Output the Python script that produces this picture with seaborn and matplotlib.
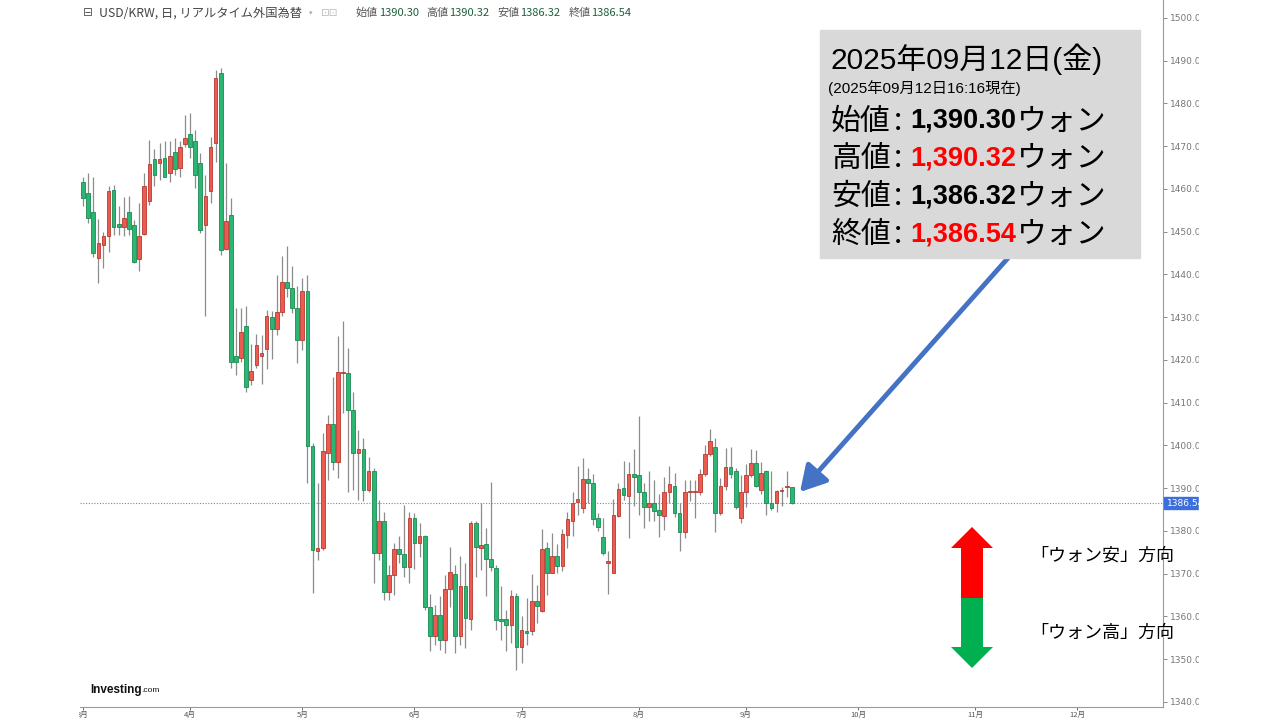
import numpy as np
import pandas as pd
import seaborn as sns
import matplotlib.pyplot as plt
from matplotlib.patches import Rectangle, Polygon

# USD/KRW daily candles, 2025-03-03 .. 2025-09-12
opens = [1461.7, 1459.0, 1454.5, 1443.8, 1446.8, 1449.0, 1459.8, 1451.7, 1451.0, 1454.5,
         1451.6, 1443.6, 1449.5, 1457.2, 1466.9, 1466.0, 1467.3, 1463.7, 1468.7, 1464.8,
         1470.5, 1472.9, 1471.1, 1466.0, 1451.6, 1459.4, 1470.8, 1487.1, 1445.9, 1453.9,
         1421.0, 1420.4, 1427.9, 1415.2, 1418.8, 1420.9, 1422.5, 1430.1, 1427.2, 1431.1,
         1438.3, 1436.8, 1432.1, 1424.7, 1436.2, 1399.9, 1375.4, 1375.9, 1398.3, 1405.1,
         1396.2, 1416.9, 1416.9, 1408.3, 1398.2, 1399.1, 1389.6, 1393.9, 1374.9, 1382.2,
         1365.8, 1369.7, 1375.7, 1374.6, 1371.6, 1382.9, 1377.1, 1378.7, 1362.3, 1355.5,
         1360.3, 1354.5, 1366.4, 1369.9, 1355.3, 1367.1, 1359.3, 1381.8, 1375.9, 1376.9,
         1373.4, 1371.3, 1359.3, 1359.3, 1358.0, 1364.8, 1352.8, 1356.5, 1356.5, 1363.5,
         1361.3, 1376.1, 1370.2, 1374.2, 1371.9, 1379.0, 1382.4, 1386.8, 1385.3, 1392.1,
         1391.3, 1382.9, 1378.5, 1372.4, 1370.1, 1383.5, 1390.0, 1388.2, 1393.3, 1393.1,
         1389.2, 1385.7, 1386.5, 1384.9, 1383.5, 1389.0, 1390.6, 1384.3, 1379.8, 1389.0,
         1389.0, 1389.0, 1393.3, 1398.0, 1399.7, 1384.1, 1390.5, 1395.0, 1394.1, 1383.0,
         1389.0, 1393.1, 1395.8, 1389.6, 1394.1, 1386.5, 1386.6, 1389.3, 1390.2, 1390.30]
highs = [1462.7, 1463.8, 1462.7, 1452.9, 1450.0, 1460.7, 1460.9, 1455.9, 1458.2, 1458.4,
         1452.8, 1456.6, 1463.7, 1471.5, 1469.3, 1470.8, 1471.1, 1471.1, 1471.9, 1471.1,
         1477.3, 1477.7, 1473.8, 1468.3, 1463.3, 1472.1, 1487.8, 1488.2, 1466.0, 1457.8,
         1432.1, 1432.1, 1432.6, 1423.7, 1426.1, 1425.9, 1431.7, 1431.5, 1439.9, 1444.2,
         1446.7, 1442.0, 1437.3, 1439.1, 1439.9, 1400.5, 1391.1, 1402.8, 1407.1, 1416.0,
         1425.6, 1429.2, 1422.7, 1412.6, 1403.6, 1401.7, 1397.2, 1394.7, 1387.2, 1384.5,
         1372.1, 1377.1, 1378.7, 1386.1, 1384.5, 1384.1, 1381.8, 1379.1, 1365.3, 1362.7,
         1364.8, 1369.7, 1376.2, 1372.0, 1374.2, 1372.4, 1382.4, 1382.2, 1386.6, 1380.6,
         1391.5, 1372.0, 1367.0, 1361.5, 1366.2, 1365.4, 1360.0, 1364.2, 1369.9, 1367.4,
         1380.4, 1377.5, 1379.5, 1377.0, 1380.4, 1384.5, 1389.0, 1395.2, 1397.0, 1394.6,
         1393.3, 1384.1, 1382.9, 1375.4, 1387.4, 1391.3, 1396.4, 1396.2, 1399.1, 1406.9,
         1391.3, 1393.9, 1391.9, 1388.6, 1392.5, 1395.2, 1393.5, 1386.6, 1391.9, 1391.8,
         1391.8, 1394.4, 1400.1, 1403.8, 1401.7, 1392.3, 1399.3, 1399.7, 1394.6, 1393.1,
         1395.7, 1399.1, 1398.9, 1396.2, 1394.3, 1393.9, 1389.6, 1390.2, 1394.1, 1390.32]
lows = [1455.9, 1452.0, 1444.0, 1437.9, 1441.4, 1445.3, 1449.2, 1449.2, 1448.9, 1449.2,
        1442.6, 1440.9, 1449.2, 1456.3, 1460.7, 1462.1, 1462.7, 1461.7, 1463.3, 1462.9,
        1469.9, 1467.2, 1460.3, 1449.8, 1430.3, 1456.8, 1466.2, 1444.6, 1445.7, 1418.0,
        1416.5, 1419.6, 1412.6, 1414.2, 1418.0, 1414.4, 1417.8, 1420.2, 1425.9, 1430.3,
        1434.8, 1430.9, 1419.2, 1422.3, 1391.1, 1365.4, 1373.2, 1375.5, 1391.9, 1394.3,
        1392.3, 1407.5, 1389.2, 1389.6, 1387.2, 1387.1, 1389.0, 1367.7, 1373.2, 1363.8,
        1363.8, 1365.0, 1372.4, 1369.3, 1367.7, 1371.2, 1374.0, 1361.5, 1351.8, 1353.3,
        1352.2, 1351.4, 1362.3, 1351.4, 1353.3, 1352.6, 1356.8, 1369.3, 1370.9, 1364.8,
        1370.5, 1356.7, 1354.5, 1352.0, 1353.7, 1347.5, 1349.0, 1353.3, 1355.7, 1358.5,
        1361.1, 1365.0, 1370.1, 1370.1, 1370.7, 1375.9, 1378.7, 1383.7, 1384.1, 1386.6,
        1381.4, 1379.9, 1374.4, 1365.3, 1370.1, 1383.2, 1387.2, 1378.3, 1385.8, 1383.7,
        1380.6, 1382.2, 1382.2, 1378.5, 1380.1, 1386.6, 1383.2, 1375.2, 1378.3, 1386.9,
        1383.0, 1388.4, 1392.9, 1397.5, 1379.8, 1383.7, 1389.6, 1392.3, 1385.1, 1381.9,
        1385.5, 1392.5, 1390.2, 1388.6, 1383.7, 1384.9, 1384.5, 1385.8, 1388.0, 1386.32]
closes = [1457.8, 1453.1, 1445.0, 1447.3, 1449.0, 1459.4, 1451.0, 1451.0, 1453.1, 1450.6,
          1442.9, 1448.9, 1460.7, 1465.8, 1463.3, 1466.9, 1462.9, 1467.8, 1464.6, 1469.8,
          1472.0, 1469.8, 1463.3, 1450.4, 1458.4, 1469.8, 1485.9, 1445.7, 1452.6, 1419.6,
          1419.4, 1426.6, 1413.6, 1417.4, 1423.5, 1421.6, 1430.3, 1427.2, 1431.1, 1438.3,
          1436.8, 1432.1, 1424.7, 1436.2, 1399.9, 1375.5, 1375.9, 1398.6, 1405.1, 1396.2,
          1417.1, 1417.0, 1408.3, 1398.2, 1399.1, 1389.6, 1393.9, 1374.9, 1382.2, 1365.8,
          1369.6, 1375.7, 1374.6, 1371.6, 1382.9, 1377.1, 1378.7, 1362.3, 1355.5, 1360.3,
          1354.5, 1366.4, 1370.3, 1355.3, 1367.0, 1359.6, 1381.8, 1376.3, 1376.7, 1373.4,
          1371.5, 1359.2, 1359.0, 1358.0, 1364.8, 1352.8, 1356.7, 1356.2, 1363.7, 1362.5,
          1375.7, 1370.2, 1374.2, 1371.9, 1379.3, 1382.7, 1386.6, 1387.4, 1392.1, 1391.3,
          1382.7, 1380.9, 1374.8, 1373.0, 1383.7, 1389.7, 1388.4, 1393.3, 1392.5, 1389.0,
          1385.5, 1386.6, 1384.7, 1383.7, 1389.0, 1391.0, 1384.1, 1379.8, 1389.0, 1389.2,
          1389.2, 1393.3, 1398.0, 1401.1, 1384.1, 1390.5, 1395.0, 1393.3, 1385.5, 1389.0,
          1393.1, 1395.8, 1390.5, 1393.6, 1386.5, 1385.3, 1389.4, 1389.6, 1390.5, 1386.54]
last_price = 1386.54
y_ticks = list(range(1340, 1501, 10))
month_names = ["3月", "4月", "5月", "6月", "7月", "8月", "9月", "10月", "11月", "12月"]

header_title = "USD/KRW, 日, リアルタイム外国為替"
header_vals = [("始値", "1390.30"), ("高値", "1390.32"), ("安値", "1386.32"), ("終値", "1386.54")]

box_date = "2025年09月12日(金)"
box_time = "(2025年09月12日16:16現在)"
box_labels = ["始値", "高値", "安値", "終値"]
box_values = ["1,390.30", "1,390.32", "1,386.32", "1,386.54"]
box_red = [False, True, False, True]
unit = "ウォン"
up_text = "「ウォン安」方向"
down_text = "「ウォン高」方向"

W, H = 1280, 720
CJK = ["Noto Sans CJK JP", "DejaVu Sans"]
LAT = ["Liberation Sans", "Noto Sans CJK JP", "DejaVu Sans"]
GREEN, GREEN_E = "#2bb673", "#1b8a50"
RED, RED_E = "#ec5b4f", "#b8392f"

sns.set_theme(style="white")
plt.rcParams["font.family"] = CJK

fig = plt.figure(figsize=(W / 100, H / 100), dpi=100)
ax = fig.add_axes([80 / W, 13 / H, (1163 - 80) / W, 707 / H])

df = pd.DataFrame(dict(open=opens, high=highs, low=lows, close=closes))
df["date"] = pd.bdate_range("2025-03-03", periods=len(df))
df["i"] = np.arange(len(df))
rising = (df["close"] >= df["open"]).to_numpy()
body_lo = np.minimum(df["open"], df["close"])
body_h = np.maximum((df["close"] - df["open"]).abs(), 0.35)

ax.vlines(df["i"], df["low"], df["high"], color="#8c8c8c", lw=0.9, zorder=2)
ax.bar(df["i"], body_h, bottom=body_lo, width=0.72,
       color=np.where(rising, RED, GREEN), edgecolor=np.where(rising, RED_E, GREEN_E),
       lw=0.6, zorder=3)

ax.axhline(last_price, color="#6f80e0", ls=(0, (1, 1.5)), lw=0.8, zorder=1)

# month ticks at first business day of each month
cal = pd.bdate_range("2025-03-03", "2025-12-31")
first = pd.Series(np.arange(len(cal)), index=cal).groupby(cal.month).min()
ax.set_xticks(first.values)
ax.set_xticklabels(month_names)
ax.set_xlim(-0.6, 211.8)
ax.set_ylim(1338.8, 1504.2)
ax.yaxis.tick_right()
ax.set_yticks(y_ticks)
ax.set_yticklabels([f"{v:.2f}" for v in y_ticks])
ax.tick_params(axis="y", labelsize=6.5, colors="#777777", length=3, width=0.6, pad=2,
               direction="out", right=True, left=False)
ax.tick_params(axis="x", labelsize=5.5, colors="#555555", length=2, width=0.6, pad=0.5,
               direction="out", bottom=True)
for lbl in ax.get_yticklabels():
    lbl.set_fontfamily(["DejaVu Sans"])
for side in ["top", "left"]:
    ax.spines[side].set_visible(False)
for side in ["right", "bottom"]:
    ax.spines[side].set_color("#9a9a9a")
    ax.spines[side].set_linewidth(0.8)
ax.set_facecolor("white")


def fx(px):
    return px / W


def fy(py):
    return 1 - py / H


renderer = fig.canvas.get_renderer()


def run(x, y, pieces):
    # pieces: (text, kwargs, gap_after_px)
    for s, kw, gap in pieces:
        t = fig.text(fx(x), fy(y), s, ha="left", va="center", **kw)
        x += t.get_window_extent(renderer=renderer).width + gap
    return x


# header line
fig.text(fx(83), fy(13), "⊟", fontsize=8.5, color="#555555", family=["DejaVu Sans"], va="center")
run(99, 13, [(header_title, dict(fontsize=8.8, color="#444444", family=CJK), 7),
             ("▾", dict(fontsize=5, color="#aaaaaa", family=["DejaVu Sans"]), 8),
             ("⊡⊡", dict(fontsize=7.5, color="#bbbbbb", family=["DejaVu Sans"]), 9)])
pieces = []
for lab, val in header_vals:
    pieces.append((lab, dict(fontsize=8, color="#555555", family=CJK), 0.5))
    pieces.append((val, dict(fontsize=8, color="#1f5f3a", family=CJK), 8))
run(356, 13, pieces)

# last price label on the axis
fig.add_artist(Rectangle((fx(1164), fy(509)), 40 / W, 12 / H, transform=fig.transFigure,
                         color="#3d6fdc", zorder=5))
fig.text(fx(1167), fy(503), f"{last_price:.2f}", fontsize=6.5, color="white",
         family=["DejaVu Sans"], va="center", zorder=6)
# the pasted chart is cut off on the right
fig.add_artist(Rectangle((fx(1199), 0), (W - 1199) / W, 1, transform=fig.transFigure,
                         color="white", zorder=7))
fig.add_artist(Rectangle((0, 0), fx(78), 1, transform=fig.transFigure,
                         color="white", zorder=7))

# Investing.com logo
run(90, 690, [("Investing", dict(fontsize=8.5, fontweight="bold", color="#111111",
                                 family=["Liberation Sans"]), 0),
              (".com", dict(fontsize=6, color="#111111", family=["Liberation Sans"]), 0)])

# info box
fig.add_artist(Rectangle((fx(820), fy(258)), 320 / W, 228 / H, transform=fig.transFigure,
                         color="#d9d9d9", zorder=4))
fig.text(fx(830), fy(59), box_date, fontsize=21.5, color="black", family=LAT,
         va="center", zorder=8)
fig.text(fx(828), fy(88), box_time, fontsize=11, color="black", family=LAT,
         va="center", zorder=8)
for k, (lab, val) in enumerate(zip(box_labels, box_values)):
    yy = 121 + k * 37.7
    col = "#ff0000" if box_red[k] else "black"
    run(831, yy, [(lab, dict(fontsize=21.5, color="black", family=CJK, zorder=8), 3),
                  (":", dict(fontsize=21.5, color="black", family=CJK, zorder=8), 8),
                  (val, dict(fontsize=19.5, color=col, fontweight="bold",
                             family=["Liberation Sans"], zorder=8), 1),
                  (unit, dict(fontsize=21.5, color="black", family=CJK, zorder=8), 0)])

# pointer arrow from the box to the last candle
ax.annotate("", xy=(800, H - 492), xycoords="figure pixels",
            xytext=(1008, H - 258), textcoords="figure pixels",
            arrowprops=dict(arrowstyle="-|>,head_length=0.7,head_width=0.4",
                            color="#4472c4", lw=3.5, mutation_scale=22,
                            shrinkA=0, shrinkB=0),
            annotation_clip=False, zorder=8)

# up / down arrow
up_pts = [(972, 527), (993, 548), (983, 548), (983, 598), (961, 598), (961, 548), (951, 548)]
dn_pts = [(961, 598), (983, 598), (983, 647), (993, 647), (972, 668), (951, 647), (961, 647)]
fig.add_artist(Polygon([(fx(a), fy(b)) for a, b in up_pts], closed=True,
                       transform=fig.transFigure, color="#ff0000", lw=0, zorder=8))
fig.add_artist(Polygon([(fx(a), fy(b)) for a, b in dn_pts], closed=True,
                       transform=fig.transFigure, color="#00b050", lw=0, zorder=8))
fig.text(fx(1030), fy(556), up_text, fontsize=13, color="black", family=CJK,
         va="center", zorder=8)
fig.text(fx(1030), fy(633), down_text, fontsize=13, color="black", family=CJK,
         va="center", zorder=8)

fig.savefig("out.png", dpi=100)
